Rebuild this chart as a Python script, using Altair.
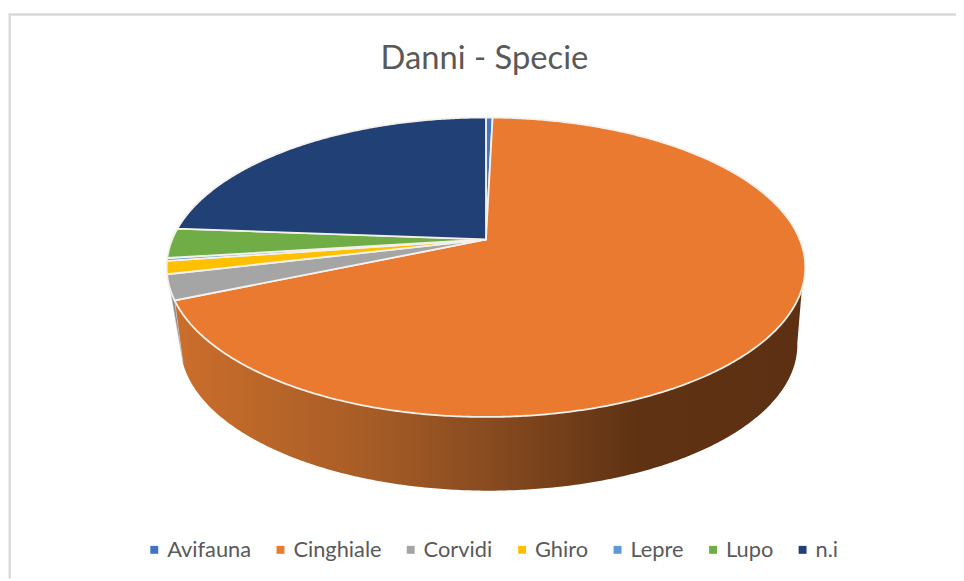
import math
import altair as alt
import pandas as pd

species = ["Avifauna", "Cinghiale", "Corvidi", "Ghiro", "Lepre", "Lupo", "n.i"]
shares = [0.4, 68.2, 2.7, 1.4, 0.3, 3.2, 23.8]
colors = ["#4472C4", "#E97A2F", "#A5A5A5", "#FFC000", "#5B9BD5", "#70AD47", "#214075"]

W, H = 956, 573
K = 0.1854


def top_pt(theta):
    t = math.radians(theta)
    d = 1 + K * math.cos(t)
    return 490 + 316.4 * math.sin(t) / d, 239 - 145.8 * math.cos(t) / d


def bot_pt(theta):
    t = math.radians(theta)
    d = 1 + K * math.cos(t)
    return 493 + 305.6 * math.sin(t) / d, 318 - 142 * math.cos(t) / d


def sweep(a, b, fn, step=0.5):
    n = max(1, int(abs(b - a) / step))
    return [fn(a + (b - a) * i / n) for i in range(n + 1)]


# top face slices
rows = []
acc = 0.0
for name, s in zip(species, shares):
    a, b = acc * 3.6, (acc + s) * 3.6
    acc += s
    pts = [(490, 239)] + sweep(a, b, top_pt)
    for i, (x, y) in enumerate(pts):
        rows.append({"Specie": name, "x": x, "y": y, "i": i})
top_df = pd.DataFrame(rows)

end_cing = (shares[0] + shares[1]) * 3.6

wall_pts = sweep(108.8, end_cing, top_pt) + sweep(252.5, 100.0, bot_pt)
wall_df = pd.DataFrame([{"x": x, "y": y, "i": i} for i, (x, y) in enumerate(wall_pts)])

gray_pts = sweep(end_cing, 251.2, top_pt) + [bot_pt(252.5)]
gray_df = pd.DataFrame([{"x": x, "y": y, "i": i} for i, (x, y) in enumerate(gray_pts)])

xs = alt.Scale(domain=[8, 8 + W], nice=False, zero=False)
ys = alt.Scale(domain=[8, 8 + H], nice=False, zero=False, reverse=True)
X = alt.X("x:Q", scale=xs, axis=None)
Y = alt.Y("y:Q", scale=ys, axis=None)
O = alt.Order("i:Q")

wall_grad = alt.Gradient(
    gradient="linear", x1=0, x2=1, y1=0, y2=0,
    stops=[
        alt.GradientStop(color="#CB6E2C", offset=0),
        alt.GradientStop(color="#A85D26", offset=0.3),
        alt.GradientStop(color="#85491F", offset=0.52),
        alt.GradientStop(color="#5E3213", offset=0.74),
        alt.GradientStop(color="#5E3013", offset=1),
    ],
)

wall = alt.Chart(wall_df).mark_line(fill=wall_grad, stroke=None, interpolate="linear-closed", clip=False).encode(x=X, y=Y, order=O)
gray = alt.Chart(gray_df).mark_line(fill="#8A8A8A", stroke="#D8D8D8", strokeWidth=0.5, interpolate="linear-closed").encode(x=X, y=Y, order=O)

slices = alt.Chart(top_df).mark_line(stroke="#F4F1EC", strokeWidth=1.8, interpolate="linear-closed").encode(
    x=X, y=Y, order=O, detail="Specie:N",
    fill=alt.Fill(
        "Specie:N",
        scale=alt.Scale(domain=species, range=colors),
        sort=species,
        legend=alt.Legend(
            title=None, orient="none", legendX=136.5, legendY=533, direction="horizontal",
            columns=7, gridAlign="none", columnPadding=18.3, symbolType="square", symbolSize=64,
            symbolStrokeWidth=0, labelFont="Lato", labelFontSize=22, labelColor="#595959",
            labelLimit=200, labelOffset=2,
        ),
    ),
)

border_top = alt.Chart(pd.DataFrame({"a": [0]})).mark_rule(color="#D9D9D9", strokeWidth=2.4).encode(
    x=alt.value(1), x2=alt.value(W), y=alt.value(4.2))
border_left = alt.Chart(pd.DataFrame({"a": [0]})).mark_rule(color="#D9D9D9", strokeWidth=2.4).encode(
    x=alt.value(1.7), y=alt.value(3), y2=alt.value(H))

chart = alt.layer(border_top, border_left, wall, gray, slices).properties(
    width=W, height=H, padding=0, autosize=alt.AutoSizeParams(type="none"),
    title=alt.TitleParams(
        "Danni - Specie", font="Lato", fontSize=33, fontWeight="normal", color="#595959",
        anchor="middle", dx=2.5, offset=-66,
    ),
    background="white",
).configure_view(stroke=None)

chart.save("out.html", embed_options={"renderer": "svg", "actions": False})
